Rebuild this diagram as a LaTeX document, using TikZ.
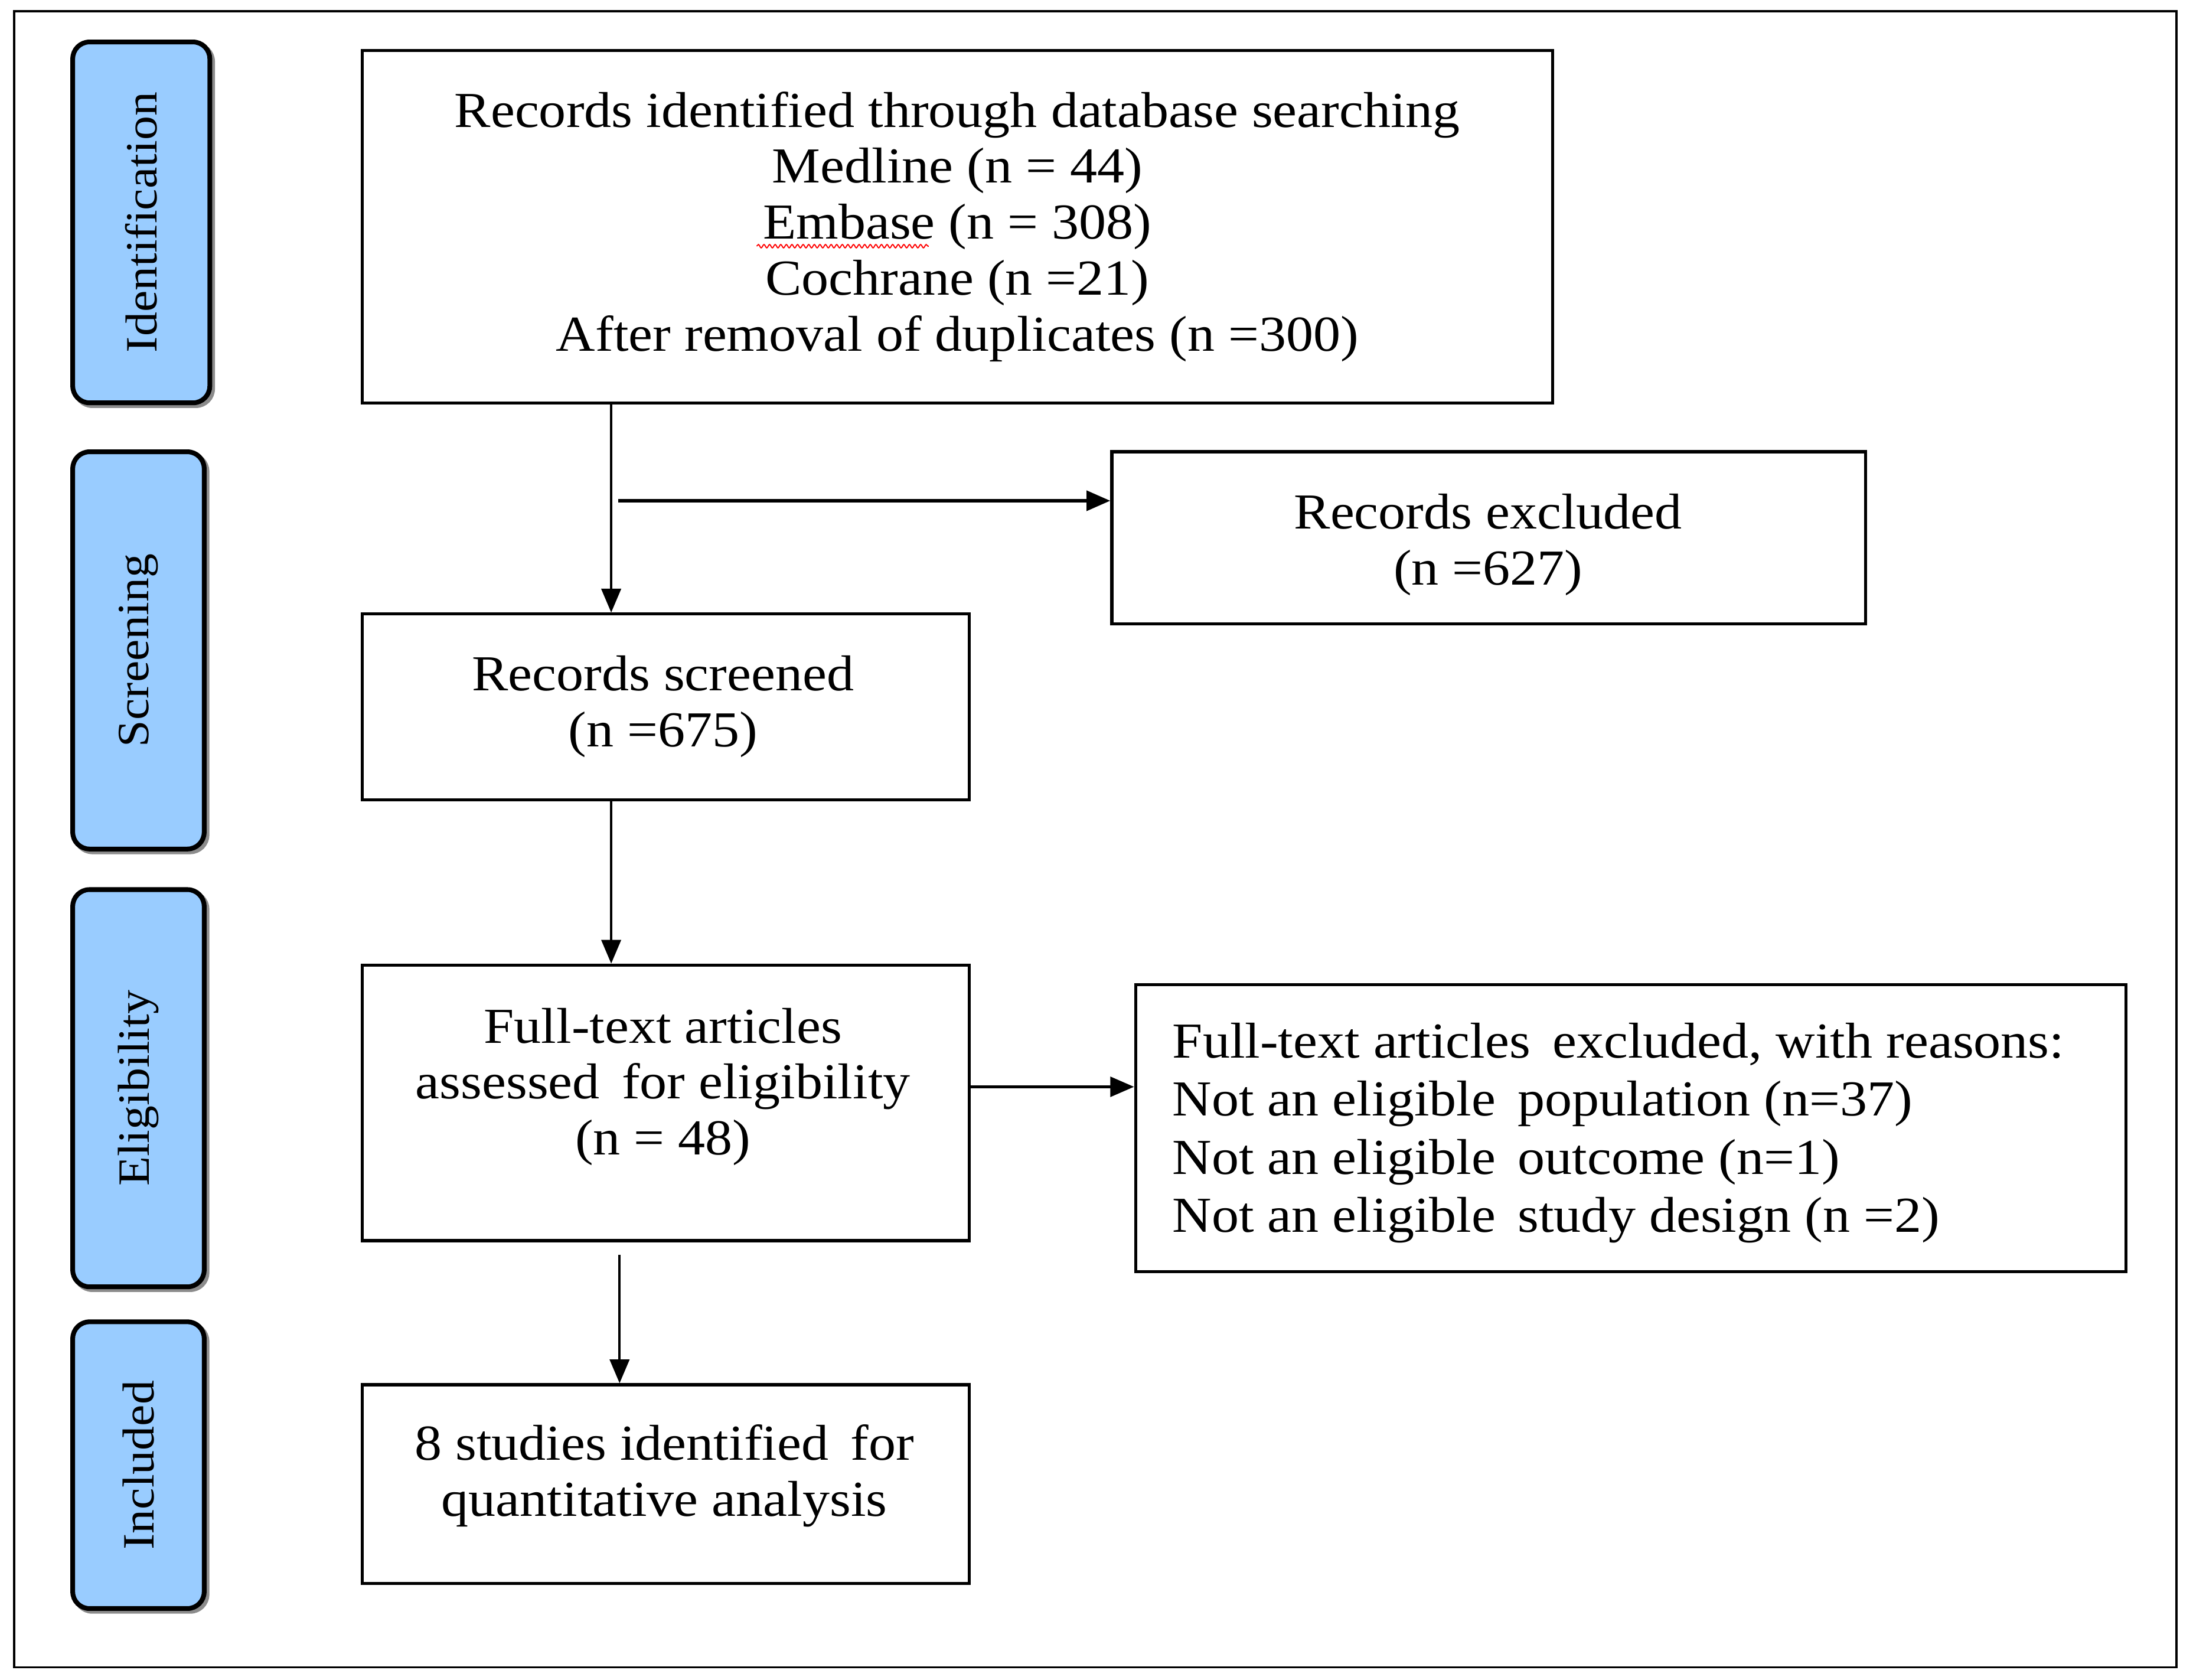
\documentclass[tikz,border=0pt]{standalone}
\usepackage{fontspec}
\setmainfont{Liberation Serif}[FakeStretch=1.08]
\usetikzlibrary{arrows.meta,decorations.pathmorphing}
\definecolor{labblue}{HTML}{99CCFF}
\begin{document}
\begin{tikzpicture}[x=0.5pt,y=-0.5pt,
  box/.style={draw, line width=1.1pt, inner sep=0pt, align=center, font=\fontsize{18}{20}\selectfont},
  lab/.style={draw, line width=1.7pt, rounded corners=6pt, fill=labblue, rotate=90, inner sep=0pt,
    font=\fontsize{16}{18}\selectfont,
    preaction={draw=black!45, line width=1.7pt, transform canvas={shift={(1pt,-1pt)}}}},
  txt/.style={align=center, inner sep=0pt, font=\fontsize{18}{20}\selectfont},
  arr/.style={-{Triangle[length=8.5pt,width=7pt]}, line width=0.8pt}]
\useasboundingbox (0,0) rectangle (1568,1201);
\draw[line width=0.8pt] (10,8) rectangle (1556,1192);

% phase labels
\node[lab, minimum width=129pt, minimum height=49pt] (lid) at (101,159) {Identification};
\node[lab, minimum width=142pt, minimum height=47pt] (lsc) at (99,465) {Screening};
\node[lab, minimum width=142pt, minimum height=47pt] (lel) at (99,778) {Eligibility};
\node[lab, minimum width=102.5pt, minimum height=47pt] (lin) at (99,1047.5) {Included};

% boxes
\node[box, minimum width=425.5pt, minimum height=126pt] (top) at (684.5,162)
  {Records identified through database searching\\ Medline (n = 44)\\ Embase (n = 308)\\ Cochrane (n =21)\\ After removal of duplicates (n =300)};
\node[box, minimum width=269.5pt, minimum height=61.5pt] (exc) at (1064.5,384.5) {};
\node[txt] (exct) at (1064,389.5) {Records excluded\\ (n =627)};
\node[box, minimum width=217pt, minimum height=66.5pt] (scr) at (476,505.5) {};
\node[txt] (scrt) at (474,505) {Records screened\\ (n =675)};
\node[box, minimum width=217pt, minimum height=98.5pt] (ful) at (476,788.5) {};
\node[txt] (fult) at (474,777) {Full-text articles\\ assessed\, for eligibility\\ (n = 48)};
\node[box, minimum width=354pt, minimum height=102.5pt] (rea) at (1166,806.5) {};
\node[txt, align=left, anchor=west, font=\fontsize{18}{20.8}\selectfont] (reat) at (838,810)
  {Full-text articles\, excluded, with reasons:\\ Not an eligible\, population (n=37)\\ Not an eligible\, outcome (n=1)\\ Not an eligible\, study design (n =2)};
\node[box, minimum width=217pt, minimum height=71pt] (inc) at (476,1061) {};
\node[txt] (inct) at (475,1055) {8 studies identified\, for\\ quantitative analysis};

% spell-check underline
\draw[red, line width=0.4pt, decorate, decoration={snake, amplitude=0.6pt, segment length=2pt}] (541,176) -- (664,176);

% connectors
\coordinate (xa) at (437,0);
\coordinate (split) at (442,358);
\coordinate (yb) at (0,777);
\coordinate (c3) at (443,897);
\draw[arr] (top.south -| xa) -- (scr.north -| xa);
\draw[arr, line width=1.4pt] (split) -- (split -| exc.west);
\draw[arr] (scr.south -| xa) -- (ful.north -| xa);
\draw[arr, line width=1.2pt] (ful.east |- yb) -- (rea.west |- yb);
\draw[arr] (c3) -- (c3 |- inc.north);
\end{tikzpicture}
\end{document}
